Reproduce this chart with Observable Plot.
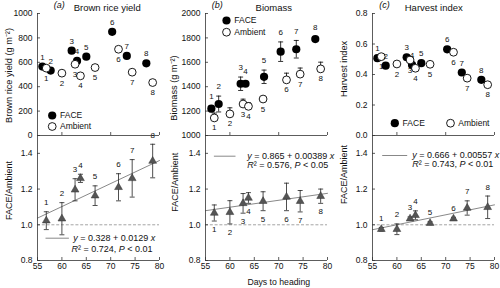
<!DOCTYPE html>
<html><head><meta charset="utf-8">
<script src="https://cdn.jsdelivr.net/npm/d3@7"></script>
<script src="https://cdn.jsdelivr.net/npm/@observablehq/plot@0.6"></script>
<style>
html,body{margin:0;padding:0;background:#fff;}
#chart{position:relative;width:500px;height:288px;overflow:hidden;background:#fff;}
</style></head><body><div id="chart"></div>
<script>
// ---------------- data ----------------
const pointIds = [1, 2, 3, 4, 5, 6, 7, 8];
const ambientDays = [56.8, 60.0, 62.7, 63.8, 66.8, 71.6, 74.4, 78.6];
const faceDays = [56.0, 57.7, 62.0, 63.1, 65.0, 70.3, 73.3, 77.3];
const faceDaysBiomass = [56.2, 57.7, 62.2, 63.2, 67.0, 70.4, 73.6, 77.5];

const yieldFace = [565, 532, 695, 611, 646, 850, 652, 592];
const yieldAmbient = [552, 511, 584, 489, 557, 707, 519, 434];
const biomassFace = [1220, 1258, 1424, 1424, 1481, 1687, 1707, 1790];
const biomassFaceErr = [25, 65, 55, 20, 55, 80, 72, 20];
const biomassAmbient = [1144, 1177, 1258, 1239, 1299, 1456, 1503, 1546];
const biomassAmbientErr = [40, 50, 40, 30, 20, 55, 50, 55];
const hiFace = [0.507, 0.458, 0.513, 0.463, 0.474, 0.565, 0.413, 0.365];
const hiAmbient = [0.517, 0.469, 0.495, 0.441, 0.467, 0.546, 0.376, 0.333];

const ratioYield = [1.023, 1.034, 1.196, 1.26, 1.163, 1.21, 1.26, 1.357];
const ratioYieldErr = [0.05, 0.09, 0.062, 0.023, 0.055, 0.076, 0.105, 0.094];
const ratioBiomass = [1.066, 1.07, 1.12, 1.15, 1.132, 1.156, 1.132, 1.16];
const ratioBiomassErr = [0.045, 0.065, 0.055, 0.03, 0.053, 0.077, 0.06, 0.04];
const ratioHI = [0.975, 0.975, 1.034, 1.053, 1.009, 1.034, 1.094, 1.098];
const ratioHIErr = [0.01, 0.03, 0.01, 0.025, 0.008, 0.008, 0.04, 0.063];

const fitIntercept = [0.328, 0.865, 0.666];
const fitSlope = [0.0129, 0.00389, 0.00557];
const fitText = ["y = 0.328 + 0.0129 x", "y = 0.865 + 0.00389 x", "y = 0.666 + 0.00557 x"];
const fitStats = ["R² = 0.724, P < 0.01", "R² = 0.576, P < 0.05", "R² = 0.743, P < 0.01"];

const panelLetters = ["(a)", "(b)", "(c)"];
const panelTitles = ["Brown rice yield", "Biomass", "Harvest index"];
const upperYTitles = ["Brown rice yield (g m⁻²)", "Biomass (g m⁻²)", "Harvest index"];
const lowerYTitle = "FACE/Ambient";
const xTitle = "Days to heading";
const legendNames = ["FACE", "Ambient"];

const xDomain = [55, 80];
const xTicks = [55, 60, 65, 70, 75, 80];
const upperXTicks = [60, 70, 80];
const yieldTicks = [0, 200, 400, 600, 800, 1000];
const biomassTicks = [1000, 1200, 1400, 1600, 1800, 2000];
const hiTicks = [0, 0.2, 0.4, 0.6, 0.8];
const ratioTicks = [0.8, 1.0, 1.2, 1.4];
const yieldDomain = [0, 1000];
const biomassDomain = [1000, 2000];
const hiDomain = [0, 0.8];
const ratioDomain = [0.8, 1.5];

// ---------------- layout / style ----------------
const W = 500, H = 288;
const colX = [[37, 159], [205, 327], [372, 494]];
const upperY = [13, 135];
const lowerY = [135, 260];
const FONT = '"Liberation Sans", Arial, Helvetica, sans-serif';
const AX = "#333";
const INK = "#111";

const rows = (days, vals, errLo, errHi) => pointIds.map((id, i) => ({
  id, x: days[i], y: vals[i],
  lo: vals[i] - (errLo ? errLo[i] : 0),
  hi: vals[i] + (errHi ? errHi[i] : 0)
}));
const hline = w => ({draw(ctx) { ctx.moveTo(-w, 0); ctx.lineTo(w, 0); }});
const str = d => d;
// free-floating text helper (legend, titles): always centred on its line
const label = (s, anchor, dx, dy, o = {}) => Plot.text([s], {text: str, frameAnchor: anchor, dx, dy, lineAnchor: "middle", textAnchor: "middle", fill: INK, ...o});

function italicize(svg) {
  svg.querySelectorAll("text").forEach(t => {
    const s = t.textContent;
    if (!(fitText.includes(s) || fitStats.includes(s))) return;
    t.textContent = "";
    t.setAttribute("xml:space", "preserve");
    s.split(/\b([xyRP])\b/).forEach((part, i) => {
      if (!part) return;
      const ts = document.createElementNS("http://www.w3.org/2000/svg", "tspan");
      ts.textContent = part;
      if (i % 2 === 1) ts.setAttribute("font-style", "italic");
      t.appendChild(ts);
    });
  });
}

function panel(fx, fy, yDomain, marks) {
  const svg = Plot.plot({
    width: W, height: H,
    marginLeft: fx[0], marginRight: W - fx[1],
    marginTop: fy[0], marginBottom: H - fy[1],
    x: {domain: xDomain},
    y: {domain: yDomain},
    style: `background: transparent; font-family: ${FONT}; color: ${INK}; overflow: visible;`,
    marks
  });
  italicize(svg);
  svg.style.position = "absolute";
  svg.style.left = "0px";
  svg.style.top = "0px";
  document.getElementById("chart").appendChild(svg);
}

const axisLine = {stroke: AX, strokeWidth: 0.8};
const yAxis = (ticks, fmt) => Plot.axisY(ticks, {tickSize: -3, tickPadding: 8, tickFormat: fmt, fontSize: 8.5, label: null, stroke: AX, strokeWidth: 0.8});
const upperXAxis = () => Plot.axisX(upperXTicks, {tickSize: -3, tickFormat: () => "", label: null, stroke: AX, strokeWidth: 0.8});
const lowerXAxis = () => Plot.axisX(xTicks, {tickSize: -3, tickPadding: 5.5, tickFormat: d3.format("d"), fontSize: 8.5, label: null, stroke: AX, strokeWidth: 0.8});

function upperMarks(k, faceRows, ambRows, opts) {
  const m = [
    Plot.ruleX([xDomain[0]], axisLine),
    Plot.ruleY([opts.domain[0]], axisLine),
    yAxis(opts.ticks, opts.fmt),
    upperXAxis()
  ];
  if (opts.faceErr) {
    m.push(Plot.ruleX(faceRows, {x: "x", y1: "lo", y2: "hi", stroke: "#000", strokeWidth: 0.8}));
    m.push(Plot.dot(faceRows, {x: "x", y: "lo", symbol: hline(2.5), fill: "none", stroke: "#000", strokeWidth: 0.8}));
    m.push(Plot.dot(faceRows, {x: "x", y: "hi", symbol: hline(2.5), fill: "none", stroke: "#000", strokeWidth: 0.8}));
  }
  if (opts.ambErr) {
    m.push(Plot.ruleX(ambRows, {x: "x", y1: "y", y2: "hi", stroke: "#000", strokeWidth: 0.8}));
    m.push(Plot.dot(ambRows, {x: "x", y: "hi", symbol: hline(2.5), fill: "none", stroke: "#000", strokeWidth: 0.8}));
  }
  const L = opts.legAnchor, g = opts.leg;
  m.push(
    Plot.dot(faceRows, {x: "x", y: "y", r: 4.1, fill: "#000"}),
    Plot.dot(ambRows, {x: "x", y: "y", r: 3.9, fill: "#fff", stroke: "#000", strokeWidth: 0.9}),
    Plot.text(faceRows, {x: "x", y: "hi", text: "id", dy: -9.5, fontSize: 8, fill: INK}),
    Plot.text(ambRows, {x: "x", y: "y", text: "id", dy: 10, fontSize: 8, fill: INK}),
    // legend
    Plot.dot([0], {frameAnchor: L, dx: g[0][0], dy: g[0][1], r: 4.1, fill: "#000"}),
    Plot.dot([0], {frameAnchor: L, dx: g[1][0], dy: g[1][1], r: 3.9, fill: "#fff", stroke: "#000", strokeWidth: 0.9}),
    label(legendNames[0], L, g[0][0] + 7.8, g[0][1], {textAnchor: "start", fontSize: 8.5}),
    label(legendNames[1], L, g[1][0] + 7.8, g[1][1], {textAnchor: "start", fontSize: 8.5}),
    // titles
    label(panelLetters[k], "top", opts.letterDx, -8, {fontSize: 9, fontStyle: "italic"}),
    label(panelTitles[k], "top", opts.titleDx, -5.7, {fontSize: 9.5}),
    label(upperYTitles[k], "left", opts.yt[0], opts.yt[1], {rotate: -90, fontSize: 9.2})
  );
  return m;
}

function lowerMarks(k, rr, opts) {
  const fit = xDomain.map(x => ({x, y: fitIntercept[k] + fitSlope[k] * x}));
  const A = opts.anchor;
  const m = [
    Plot.ruleY([1], {stroke: "#9a9a9a", strokeWidth: 0.9, strokeDasharray: "3,1.8"}),
    Plot.line(fit, {x: "x", y: "y", stroke: "#7a7a7a", strokeWidth: 0.9}),
    Plot.ruleX([xDomain[0]], axisLine),
    Plot.ruleY([ratioDomain[0]], axisLine),
    yAxis(ratioTicks, d3.format(".1f")),
    lowerXAxis(),
    Plot.ruleX(rr, {x: "x", y1: "lo", y2: "hi", stroke: "#222", strokeWidth: 0.8}),
    Plot.dot(rr, {x: "x", y: "lo", symbol: hline(2.5), fill: "none", stroke: "#222", strokeWidth: 0.8}),
    Plot.dot(rr, {x: "x", y: "hi", symbol: hline(2.5), fill: "none", stroke: "#222", strokeWidth: 0.8}),
    Plot.dot(rr, {x: "x", y: "y", symbol: "triangle", r: 2.9, fill: "#555", stroke: "#333", strokeWidth: 0.5}),
    Plot.text(rr, {x: "x", y: opts.labelBelow ? "lo" : "hi", text: "id", dy: opts.labelBelow ? 8.5 : -9, fontSize: 8, fill: INK}),
    // regression legend
    Plot.dot([0], {frameAnchor: A, dx: opts.seg[0], dy: opts.seg[1], symbol: hline(opts.seg[2]), fill: "none", stroke: "#7a7a7a", strokeWidth: 0.9}),
    label(fitText[k], A, opts.eq1[0], opts.eq1[1], {textAnchor: "start", fontSize: 9}),
    label(fitStats[k], A, opts.eq2[0], opts.eq2[1], {textAnchor: "start", fontSize: 9}),
    label(lowerYTitle, "left", opts.yt[0], opts.yt[1], {rotate: -90, fontSize: 9})
  ];
  if (opts.xTitle) m.push(label(xTitle, "bottom", 12.3, 21.7, {fontSize: 8.7}));
  return m;
}

// ---------------- panels ----------------
// (a) Brown rice yield
panel(colX[0], upperY, yieldDomain, upperMarks(0,
  rows(faceDays, yieldFace), rows(ambientDays, yieldAmbient),
  {domain: yieldDomain, ticks: yieldTicks, fmt: d3.format("d"),
   legAnchor: "bottom-left", leg: [[14.7, -20], [14.7, -9]],
   letterDx: -39.3, titleDx: 8.7, yt: [-28, 1]}));
panel(colX[0], lowerY, ratioDomain, lowerMarks(0,
  rows(ambientDays, ratioYield, ratioYieldErr, ratioYieldErr),
  {labelBelow: false, anchor: "bottom-left", seg: [19.7, -22.3, 11.7],
   eq1: [35.7, -22.3], eq2: [34, -11.3], yt: [-28.7, -7.5]}));

// (b) Biomass
panel(colX[1], upperY, biomassDomain, upperMarks(1,
  rows(faceDaysBiomass, biomassFace, biomassFaceErr, biomassFaceErr),
  rows(ambientDays, biomassAmbient, null, biomassAmbientErr),
  {domain: biomassDomain, ticks: biomassTicks, fmt: d3.format("d"), faceErr: true, ambErr: true,
   legAnchor: "top-left", leg: [[21, 7], [21, 18.7]],
   letterDx: -49.3, titleDx: 7.3, yt: [-31.7, 13.5]}));
panel(colX[1], lowerY, ratioDomain, lowerMarks(1,
  rows(ambientDays, ratioBiomass, ratioBiomassErr, ratioBiomassErr),
  {labelBelow: true, anchor: "top-left", seg: [19.2, 20.7, 10.8],
   eq1: [41.7, 20.7], eq2: [41.7, 29.5], yt: [-30.7, -15.8], xTitle: true}));

// (c) Harvest index
panel(colX[2], upperY, hiDomain, upperMarks(2,
  rows(faceDays, hiFace), rows(ambientDays, hiAmbient),
  {domain: hiDomain, ticks: hiTicks, fmt: d3.format(".1f"),
   legAnchor: "bottom-left", leg: [[22.3, -12.3], [78, -12.3]],
   letterDx: -49, titleDx: 0.3, yt: [-28.7, -5.5]}));
panel(colX[2], lowerY, ratioDomain, lowerMarks(2,
  rows(ambientDays, ratioHI, ratioHIErr, ratioHIErr),
  {labelBelow: false, anchor: "top-left", seg: [22.2, 20, 12.5],
   eq1: [39.7, 20], eq2: [39.7, 28.8], yt: [-28.7, -23.5]}));
</script>
</body></html>
